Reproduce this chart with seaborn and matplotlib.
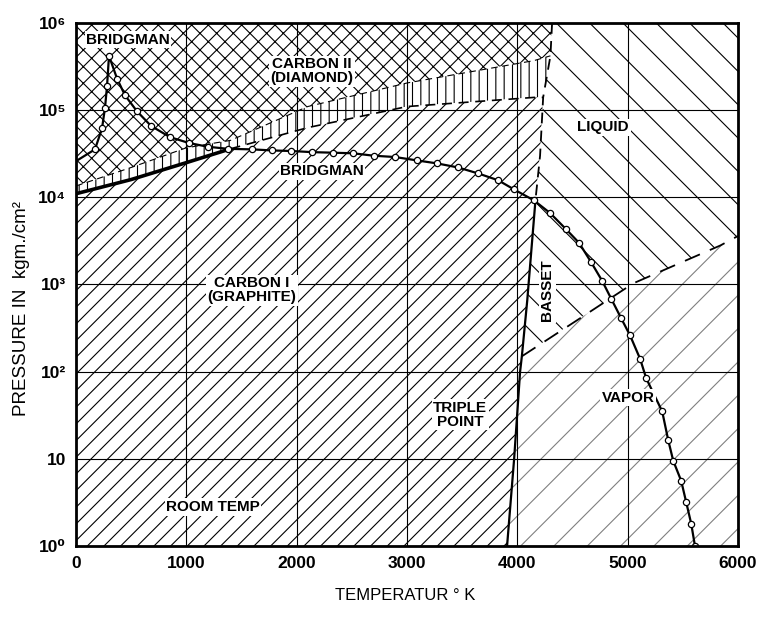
import numpy as np
import pandas as pd
import matplotlib
matplotlib.use("Agg")
import matplotlib.pyplot as plt
import seaborn as sns

# Bridgman-Kurve (Graphit/Diamant-Spitze und Schmelzkurve)
bridgman_T = [0, 172, 236, 263, 281, 299, 372, 444, 553, 680, 852, 1024, 1197, 1378,
              1596, 1777, 1950, 2140, 2330, 2511, 2700, 2892, 3091, 3273, 3463, 3645,
              3826, 3971, 4152, 4297, 4442, 4560, 4669, 4769, 4850, 4941, 5022, 5113,
              5168, 5313, 5367, 5413, 5485, 5530, 5576, 5610]
bridgman_P = [2.6e4, 3.55e4, 6.2e4, 1.07e5, 1.87e5, 4.2e5, 2.3e5, 1.48e5, 9.7e4, 6.6e4,
              4.9e4, 4.2e4, 3.8e4, 3.6e4, 3.55e4, 3.45e4, 3.4e4, 3.3e4, 3.25e4, 3.2e4,
              3.0e4, 2.9e4, 2.65e4, 2.45e4, 2.2e4, 1.88e4, 1.57e4, 1.23e4, 9.2e3, 6.6e3,
              4.3e3, 3.0e3, 1.8e3, 1.1e3, 6.9e2, 4.1e2, 2.6e2, 1.4e2, 84, 35, 16.5, 9.5,
              5.6, 3.2, 1.8, 1.0]
# Markierungen (ohne ersten Punkt am linken Rand)
marker_T = bridgman_T[1:]
marker_P = bridgman_P[1:]

# Graphit/Diamant-Uebergangsband
band_lo_T = [0, 500, 1000, 1400, 2100, 3000, 4150, 4234]
band_lo_P = [1.1e4, 1.6e4, 2.5e4, 3.6e4, 6.3e4, 1.1e5, 1.4e5, 1.4e5]
band_hi_T = [0, 500, 1000, 1400, 2100, 3000, 4150, 4300]
band_hi_P = [1.35e4, 2.2e4, 3.7e4, 4.5e4, 1.1e5, 2.05e5, 3.7e5, 4.2e5]
solid_T = [0, 500, 1000, 1400]
solid_P = [1.1e4, 1.6e4, 2.5e4, 3.6e4]

# gestrichelte Grenze fest/fluessig
melt_T = [4315, 4300, 4234, 4206, 4165]
melt_P = [1e6, 4.2e5, 1.4e5, 3e4, 9.5e3]

# Basset-Linie
basset_T = [4165, 4090, 4041, 4025, 3971, 3907]
basset_P = [9.5e3, 660, 150, 100, 10, 1]

# Grenze fluessig/Dampf
lv_T = [4041, 4569, 5050, 5839, 6000]
lv_P = [150, 410, 1030, 2800, 3600]

x_ticks = [0, 1000, 2000, 3000, 4000, 5000, 6000]
y_ticks = [1, 10, 100, 1e3, 1e4, 1e5, 1e6]
y_labels = ['10⁰', '10', '10²', '10³', '10⁴', '10⁵', '10⁶']

sns.set_style('white')
plt.rcParams['font.family'] = ['Liberation Sans', 'DejaVu Sans']
plt.rcParams['hatch.linewidth'] = 0.8
for k in ['text.color', 'axes.labelcolor', 'xtick.color', 'ytick.color']:
    plt.rcParams[k] = 'black'

fig = plt.figure(figsize=(7.57, 6.18), dpi=100)
ax = fig.add_axes([0.1004, 0.1165, 0.8745, 0.8463])
ax.set_yscale('log')
ax.set_xlim(0, 6000)
ax.set_ylim(1, 1e6)

# Flaechen
# Diamant
dia_T = band_hi_T + [melt_T[0], 0]
dia_P = band_hi_P + [melt_P[0], 1e6]
ax.fill(dia_T, dia_P, facecolor='white', edgecolor='black', hatch='xx', lw=0, zorder=1)

# Uebergangsband
b_T = band_lo_T + band_hi_T[::-1]
b_P = band_lo_P + band_hi_P[::-1]
ax.fill(b_T, b_P, facecolor='white', edgecolor='black', hatch='||', lw=0, zorder=1)

# Graphit
gr_T = [0] + band_lo_T + melt_T[3:] + basset_T[1:]
gr_P = [1] + band_lo_P + melt_P[3:] + basset_P[1:]
ax.fill(gr_T, gr_P, facecolor='white', edgecolor='black', hatch='//', lw=0, zorder=1)

# Fluessig
liq_T = melt_T + [basset_T[1], basset_T[2]] + lv_T[1:] + [6000]
liq_P = melt_P + [basset_P[1], basset_P[2]] + lv_P[1:] + [1e6]
ax.fill(liq_T, liq_P, facecolor='white', edgecolor='black', hatch='\\', lw=0, zorder=1)

# Dampf
vap_T = lv_T + [6000] + basset_T[2:][::-1]
vap_P = lv_P + [1] + basset_P[2:][::-1]
ax.fill(vap_T, vap_P, facecolor='white', edgecolor='0.5', hatch='/', lw=0, zorder=1)

# Linien
ax.plot(solid_T, solid_P, color='black', lw=2.6, zorder=3)
ax.plot(band_lo_T[3:], band_lo_P[3:], color='black', lw=1.2, ls=(0, (6, 4)), zorder=3)
ax.plot(band_hi_T, band_hi_P, color='black', lw=0.8, ls=(0, (6, 4)), zorder=3)
ax.plot(melt_T, melt_P, color='black', lw=1.3, ls=(0, (6, 4)), zorder=3)
ax.plot(lv_T, lv_P, color='black', lw=1.3, ls=(0, (9, 6)), zorder=3)
sns.lineplot(x=basset_T, y=basset_P, color='black', lw=1.6, sort=False,
             estimator=None, ax=ax, zorder=3)
sns.lineplot(x=bridgman_T, y=bridgman_P, color='black', lw=1.6, sort=False,
             estimator=None, ax=ax, zorder=4)
ax.plot(marker_T, marker_P, ls='none', marker='o', ms=4.5, mfc='white',
        mec='black', mew=0.9, zorder=5)

# Gitter
ax.set_xticks(x_ticks)
ax.set_yticks(y_ticks)
ax.set_yticklabels(y_labels)
ax.minorticks_off()
ax.set_axisbelow('line')
ax.grid(True, color='black', lw=0.8)
ax.tick_params(length=0, labelsize=12.5, pad=7)
for lab in ax.get_xticklabels() + ax.get_yticklabels():
    lab.set_fontweight('bold')
for s in ax.spines.values():
    s.set_linewidth(2)
    s.set_color('black')
    s.set_zorder(6)

# Beschriftungen
box = dict(boxstyle='square,pad=0.1', fc='white', ec='none')
kw = dict(ha='center', va='center', fontsize=11, fontweight='bold', zorder=7,
          bbox=box, linespacing=1.0)
ax.text(471, 6.4e5, 'BRIDGMAN', **kw)
ax.text(2140, 2.8e5, 'CARBON II\n(DIAMOND)', **kw)
ax.text(2230, 2.0e4, 'BRIDGMAN', **kw)
ax.text(4778, 6.4e4, 'LIQUID', **kw)
ax.text(1596, 860, 'CARBON I\n(GRAPHITE)', **kw)
ax.text(4270, 860, 'BASSET', rotation=90, **kw)
ax.text(3481, 32, 'TRIPLE\nPOINT', **kw)
ax.text(5004, 50, 'VAPOR', **kw)
ax.text(1242, 2.8, 'ROOM TEMP', **kw)

ax.set_xlabel('TEMPERATUR ° K', fontsize=12, va='center')
ax.xaxis.set_label_coords(0.497, -0.0937)
ax.set_ylabel('PRESSURE IN  kgm./cm²', fontsize=13.5, va='center')
ax.yaxis.set_label_coords(-0.0816, 0.455)

fig.savefig('out.png', dpi=100)
